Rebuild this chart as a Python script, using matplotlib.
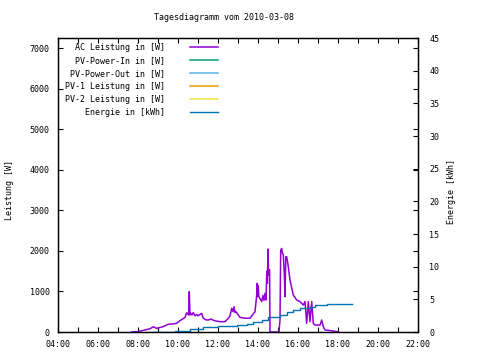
import matplotlib
matplotlib.use("Agg")
import matplotlib.pyplot as plt
from matplotlib.ticker import FixedLocator, MultipleLocator

# ---------------- data ----------------
title = "Tagesdiagramm vom 2010-03-08"
series_labels = ["AC Leistung in [W]", "PV-Power-In in [W]", "PV-Power-Out in [W]",
                 "PV-1 Leistung in [W]", "PV-2 Leistung in [W]", "Energie in [kWh]"]
series_colors = ["#9400D3", "#009E73", "#56B4E9", "#E69F00", "#F0E442", "#0072B2"]

ac_t = [7.68, 8.0, 8.35, 8.6, 8.77, 8.93, 9.25, 9.5, 9.75, 9.93,
        10.1, 10.35, 10.43, 10.53, 10.565, 10.6, 10.635, 10.7, 10.765, 10.85,
        10.935, 11.0, 11.185, 11.265, 11.4, 11.515, 11.65, 11.765, 11.9, 12.1,
        12.35, 12.5, 12.6, 12.685, 12.75, 12.8, 12.85, 12.9, 13.1, 13.35,
        13.6, 13.85, 13.935, 13.96, 13.985, 14.01, 14.04, 14.185, 14.25, 14.3,
        14.35, 14.4, 14.44, 14.47, 14.5, 14.53, 14.565, 14.58, 14.6, 15.05,
        15.1, 15.135, 15.185, 15.22, 15.265, 15.31, 15.35, 15.39, 15.435, 15.515,
        15.6, 15.765, 15.935, 16.1, 16.265, 16.35, 16.435, 16.515, 16.6, 16.685,
        16.765, 16.85, 17.1, 17.185, 17.265, 17.35, 17.765, 18.015]
ac_w = [0, 10, 50, 80, 130, 90, 130, 190, 200, 215,
        280, 360, 475, 420, 995, 420, 460, 420, 480, 400,
        430, 400, 460, 340, 300, 295, 320, 290, 270, 255,
        255, 330, 395, 585, 500, 625, 480, 500, 360, 340,
        340, 500, 910, 1200, 870, 1150, 880, 750, 900, 780,
        955, 790, 1500, 1200, 2045, 1400, 1530, 1530, 0, 0,
        295, 2020, 2060, 1950, 1900, 1500, 870, 1855, 1855, 1610,
        1280, 910, 790, 750, 665, 750, 215, 750, 255, 750,
        215, 170, 170, 295, 130, 50, 25, 0]

en_t = [8.6, 9.85, 10.6, 11.267, 12.017, 12.933, 13.433, 13.767, 14.183,
        14.517, 15.1, 15.433, 15.767, 16.1, 16.6, 16.85, 17.433, 18.683]
en_kwh = [0, 0.2, 0.45, 0.7, 0.9, 1.1, 1.3, 1.6, 1.9,
          2.25, 2.6, 3.1, 3.35, 3.6, 3.85, 4.1, 4.3, 4.3]

x_ticks = [4, 6, 8, 10, 12, 14, 16, 18, 20, 22]
x_ticklabels = ["04:00", "06:00", "08:00", "10:00", "12:00",
                "14:00", "16:00", "18:00", "20:00", "22:00"]
y1_ticks = [0, 1000, 2000, 3000, 4000, 5000, 6000, 7000]
y2_ticks = [0, 5, 10, 15, 20, 25, 30, 35, 40, 45]

# ---------------- figure ----------------
FONT = "DejaVu Sans Mono"
FS = 6
plt.rcParams["font.family"] = FONT
plt.rcParams["font.size"] = FS

W, H = 480, 360
fig = plt.figure(figsize=(4.8, 3.6), dpi=100)
ax = fig.add_axes([58 / W, 1 - 332 / H, 360 / W, 294 / H])
ax2 = ax.twinx()

# series
handles = []
l_ac, = ax.plot(ac_t, ac_w, color=series_colors[0], lw=1.1, label=series_labels[0])
handles.append(l_ac)
for lab, col in zip(series_labels[1:5], series_colors[1:5]):
    h, = ax.plot([], [], color=col, lw=1.1, label=lab)
    handles.append(h)
l_en, = ax2.plot(en_t, en_kwh, color=series_colors[5], lw=1.0, drawstyle="steps-post",
                 label=series_labels[5])
handles.append(l_en)

ax.set_xlim(4, 22)
ax.set_ylim(0, 7250)
ax2.set_ylim(0, 45)

ax.xaxis.set_major_locator(FixedLocator(x_ticks))
ax.set_xticklabels(x_ticklabels)
ax.xaxis.set_minor_locator(MultipleLocator(1))
ax.yaxis.set_major_locator(FixedLocator(y1_ticks))
ax2.yaxis.set_major_locator(FixedLocator(y2_ticks))

ax.tick_params(axis="both", which="both", direction="in", top=True, right=True,
               labelright=False, labeltop=False, width=0.8, labelsize=FS, pad=6)
ax.tick_params(axis="x", which="major", length=3.5)
ax.tick_params(axis="x", which="minor", length=3.5)
ax.tick_params(axis="y", which="major", length=3.5)
ax2.tick_params(axis="y", which="both", direction="in", length=3.5, width=0.8,
                labelsize=FS, pad=8, left=False)

for a in (ax, ax2):
    for s in a.spines.values():
        s.set_linewidth(0.9)
        s.set_color("black")

fig.text(223.5 / W, 1 - 18 / H, title, ha="center", va="center", fontsize=FS)
fig.text(10 / W, 1 - 190 / H, "Leistung [W]", rotation=90, ha="center", va="center",
         fontsize=FS)
fig.text(452 / W, 1 - 192 / H, "Energie [kWh]", rotation=90, ha="center", va="center",
         fontsize=FS)

leg = ax.legend(handles=handles, loc="upper right", markerfirst=False, frameon=False,
                bbox_to_anchor=(218 / W, 1 - 42.5 / H), bbox_transform=fig.transFigure,
                borderaxespad=0, borderpad=0, handlelength=3.4, handletextpad=3.0,
                labelspacing=0.5, fontsize=FS)
try:
    col_box = leg._legend_box.get_children()[1].get_children()[0]
    col_box.align = "right"
except Exception:
    pass

fig.savefig("out.png", dpi=100)
